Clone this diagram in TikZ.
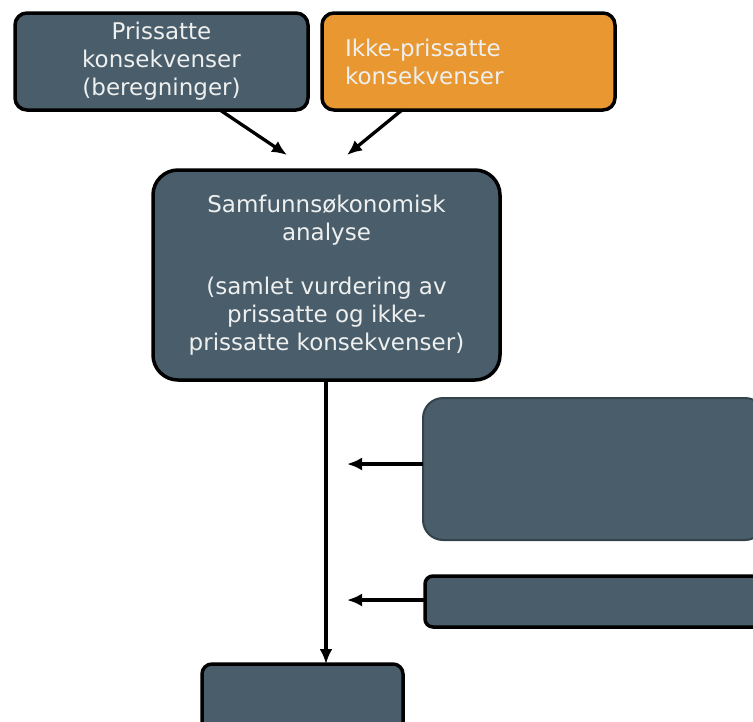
\documentclass[tikz,border=0pt]{standalone}
\usepackage{fontspec}
\setmainfont{DejaVu Sans}
\usetikzlibrary{arrows.meta,positioning}
\usepackage{xcolor}
\definecolor{skifer}{RGB}{74,93,106}
\definecolor{skiferkant}{RGB}{52,66,76}
\definecolor{oransje}{RGB}{233,151,48}
\definecolor{lystekst}{RGB}{238,240,240}

\begin{document}
\begin{tikzpicture}[x=1pt, y=-1pt]
\tikzset{
    boks/.style={rectangle, rounded corners=12pt, draw=black, fill=skifer, line width=3.5pt, outer sep=0pt, inner sep=0pt, text=lystekst, font=\fontsize{23}{28}\selectfont, align=center},
    tomboks/.style={boks, minimum width=340pt},
    pil/.style={-{Latex[length=15pt, width=13pt]}, line width=3.3pt}
}
\useasboundingbox (0,0) rectangle (753,721);

\node[boks, minimum width=293pt, minimum height=97pt] (prissatte) at (161.5,61.5) {Prissatte\\konsekvenser\\(beregninger)};
\node[boks, fill=oransje, right=14pt of prissatte, text width=247pt, inner xsep=23pt, align=left, minimum height=97pt] (ikkeprissatte) {Ikke-prissatte\\konsekvenser};
\node[boks, rounded corners=25pt, minimum width=347pt, minimum height=210pt] (analyse) at (326.5,275) {Samfunnsøkonomisk\\analyse\\[26pt](samlet vurdering av\\prissatte og ikke-\\prissatte konsekvenser)};
% the right-hand boxes run past the edge of the page
\node[tomboks, rounded corners=20pt, draw=skiferkant, line width=2pt, minimum width=342pt, minimum height=142pt] (tiltak) at (594,469) {};
\node[tomboks, rounded corners=8pt, minimum height=51pt] (forutsetning) at (595,601.5) {};
\node[boks, rounded corners=10pt, minimum width=201pt, minimum height=71pt] (beslutning) at (302.5,699.5) {};

\coordinate (innA) at ([xshift=-39.5pt, yshift=15pt]analyse.north);
\coordinate (innB) at ([xshift=20.5pt, yshift=15pt]analyse.north);
\coordinate (innD) at (347,464);
\coordinate (innF) at (347,600);

\draw[pil] ([xshift=58.5pt]prissatte.south) -- (innA);
\draw[pil] ([xshift=-66.5pt]ikkeprissatte.south) -- (innB);
\draw[pil] ([xshift=-0.5pt]analyse.south) -- ([xshift=-0.5pt]analyse.south |- beslutning.north);
\draw[pil] ([yshift=5pt]tiltak.west) -- (innD);
\draw[pil] ([yshift=1.5pt]forutsetning.west) -- (innF);

\end{tikzpicture}
\end{document}
